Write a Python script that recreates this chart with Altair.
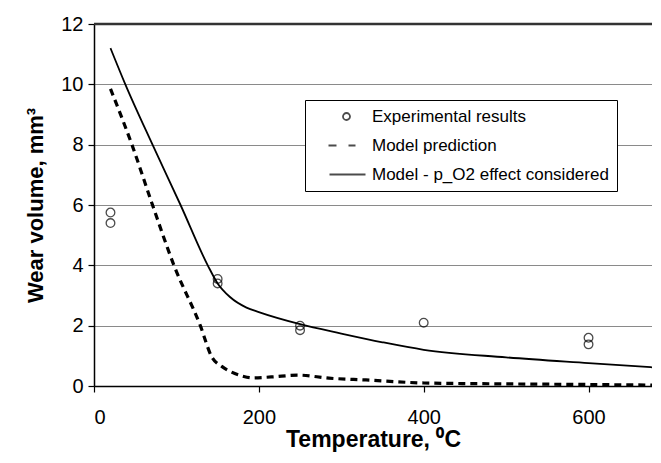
import altair as alt
import pandas as pd

# Experimental results
exp_temp = [20, 20, 150, 150, 250, 250, 400, 600, 600]
exp_wear = [5.75, 5.4, 3.55, 3.4, 2.0, 1.85, 2.1, 1.6, 1.38]

# Model prediction (dashed)
pred_temp = [20, 46, 71, 97, 129, 143, 155, 167, 180, 192, 215, 248, 285, 330, 400, 500, 600, 677]
pred_wear = [9.85, 8.0, 6.0, 4.0, 2.0, 0.96, 0.65, 0.46, 0.33, 0.27, 0.3, 0.36, 0.26, 0.2, 0.1, 0.07, 0.05, 0.03]

# Model - p_O2 effect considered (solid)
po2_temp = [20, 38, 71, 105, 138, 150, 165, 185, 200, 250, 300, 350, 400, 500, 600, 677]
po2_wear = [11.2, 10.0, 8.0, 6.0, 4.0, 3.4, 2.95, 2.6, 2.45, 2.05, 1.74, 1.45, 1.2, 0.95, 0.76, 0.62]

series_names = ["Experimental results", "Model prediction", "Model - p_O2 effect considered"]
x_ticks = [0, 200, 400, 600]
y_ticks = [0, 2, 4, 6, 8, 10, 12]
y_top = [12]

FONT = "Liberation Sans"

exp_df = pd.DataFrame({"t": exp_temp, "w": exp_wear})
pred_df = pd.DataFrame({"t": pred_temp, "w": pred_wear})
po2_df = pd.DataFrame({"t": po2_temp, "w": po2_wear})
leg_df = pd.DataFrame({"series": series_names})
top_df = pd.DataFrame({"w": y_top})

xs = alt.Scale(domain=[0, 677], nice=False, zero=False)
ys = alt.Scale(domain=[0, 12], nice=False)

x_axis = alt.Axis(values=x_ticks, title="Temperature, \u2070C", grid=False,
                  tickSize=6, labelPadding=15, titlePadding=1, titleFontSize=23)
y_axis = alt.Axis(values=y_ticks, title="Wear volume, mm\u00b3", grid=True,
                  tickSize=6, labelPadding=5, titlePadding=13)

X = alt.X("t:Q", scale=xs, axis=x_axis)
Y = alt.Y("w:Q", scale=ys, axis=y_axis)

top_rule = alt.Chart(top_df).mark_rule(color="#333", strokeWidth=2.5).encode(
    y=alt.Y("w:Q", scale=ys, axis=y_axis))
solid = alt.Chart(po2_df).mark_line(color="black", strokeWidth=1.8,
                                    interpolate="monotone").encode(x=X, y=Y)
dashed = alt.Chart(pred_df).mark_line(color="black", strokeWidth=3.2,
                                      strokeDash=[7, 5],
                                      interpolate="monotone").encode(x=X, y=Y)
pts = alt.Chart(exp_df).mark_point(shape="circle", filled=False, color="black",
                                   size=75, strokeWidth=1.3).encode(x=X, y=Y)

shape_paths = [
    "M4.3,0 A0.7,0.7 0 1,1 5.7,0 A0.7,0.7 0 1,1 4.3,0 Z",
    "M1.4,0 L3.0,0 M5.4,0 L6.8,0",
    "M1.6,0 L8.8,0",
]

legend_layer = alt.Chart(leg_df).transform_filter("false").mark_point(
    filled=False, color="black").encode(
    shape=alt.Shape("series:N",
                    scale=alt.Scale(domain=series_names, range=shape_paths),
                    legend=alt.Legend(orient="none", legendX=211, legendY=76,
                                      title=None, symbolSize=100,
                                      symbolStrokeWidth=1.8,
                                      symbolStrokeColor="black",
                                      symbolFillColor="transparent",
                                      labelFont=FONT, labelFontSize=17,
                                      labelColor="black",
                                      labelOffset=42, padding=8,
                                      rowPadding=11,
                                      fillColor="white", strokeColor="black",
                                      labelLimit=400))
)

chart = alt.layer(dashed, solid, pts, top_rule, legend_layer).properties(
    width=558, height=362,
    autosize=alt.AutoSizeParams(type="none"),
    padding={"left": 86, "top": 16, "right": 0, "bottom": 69},
).configure_view(stroke=None).configure_axis(
    labelFont=FONT, labelFontSize=20, labelColor="black",
    titleFont=FONT, titleFontSize=22, titleFontWeight="bold", titleColor="black",
    domainColor="black", domainWidth=1.5, tickColor="black", tickWidth=1.2,
    gridColor="#8a8a8a", gridWidth=1,
)

chart.save("out.html", embed_options={"renderer": "svg", "actions": False})
